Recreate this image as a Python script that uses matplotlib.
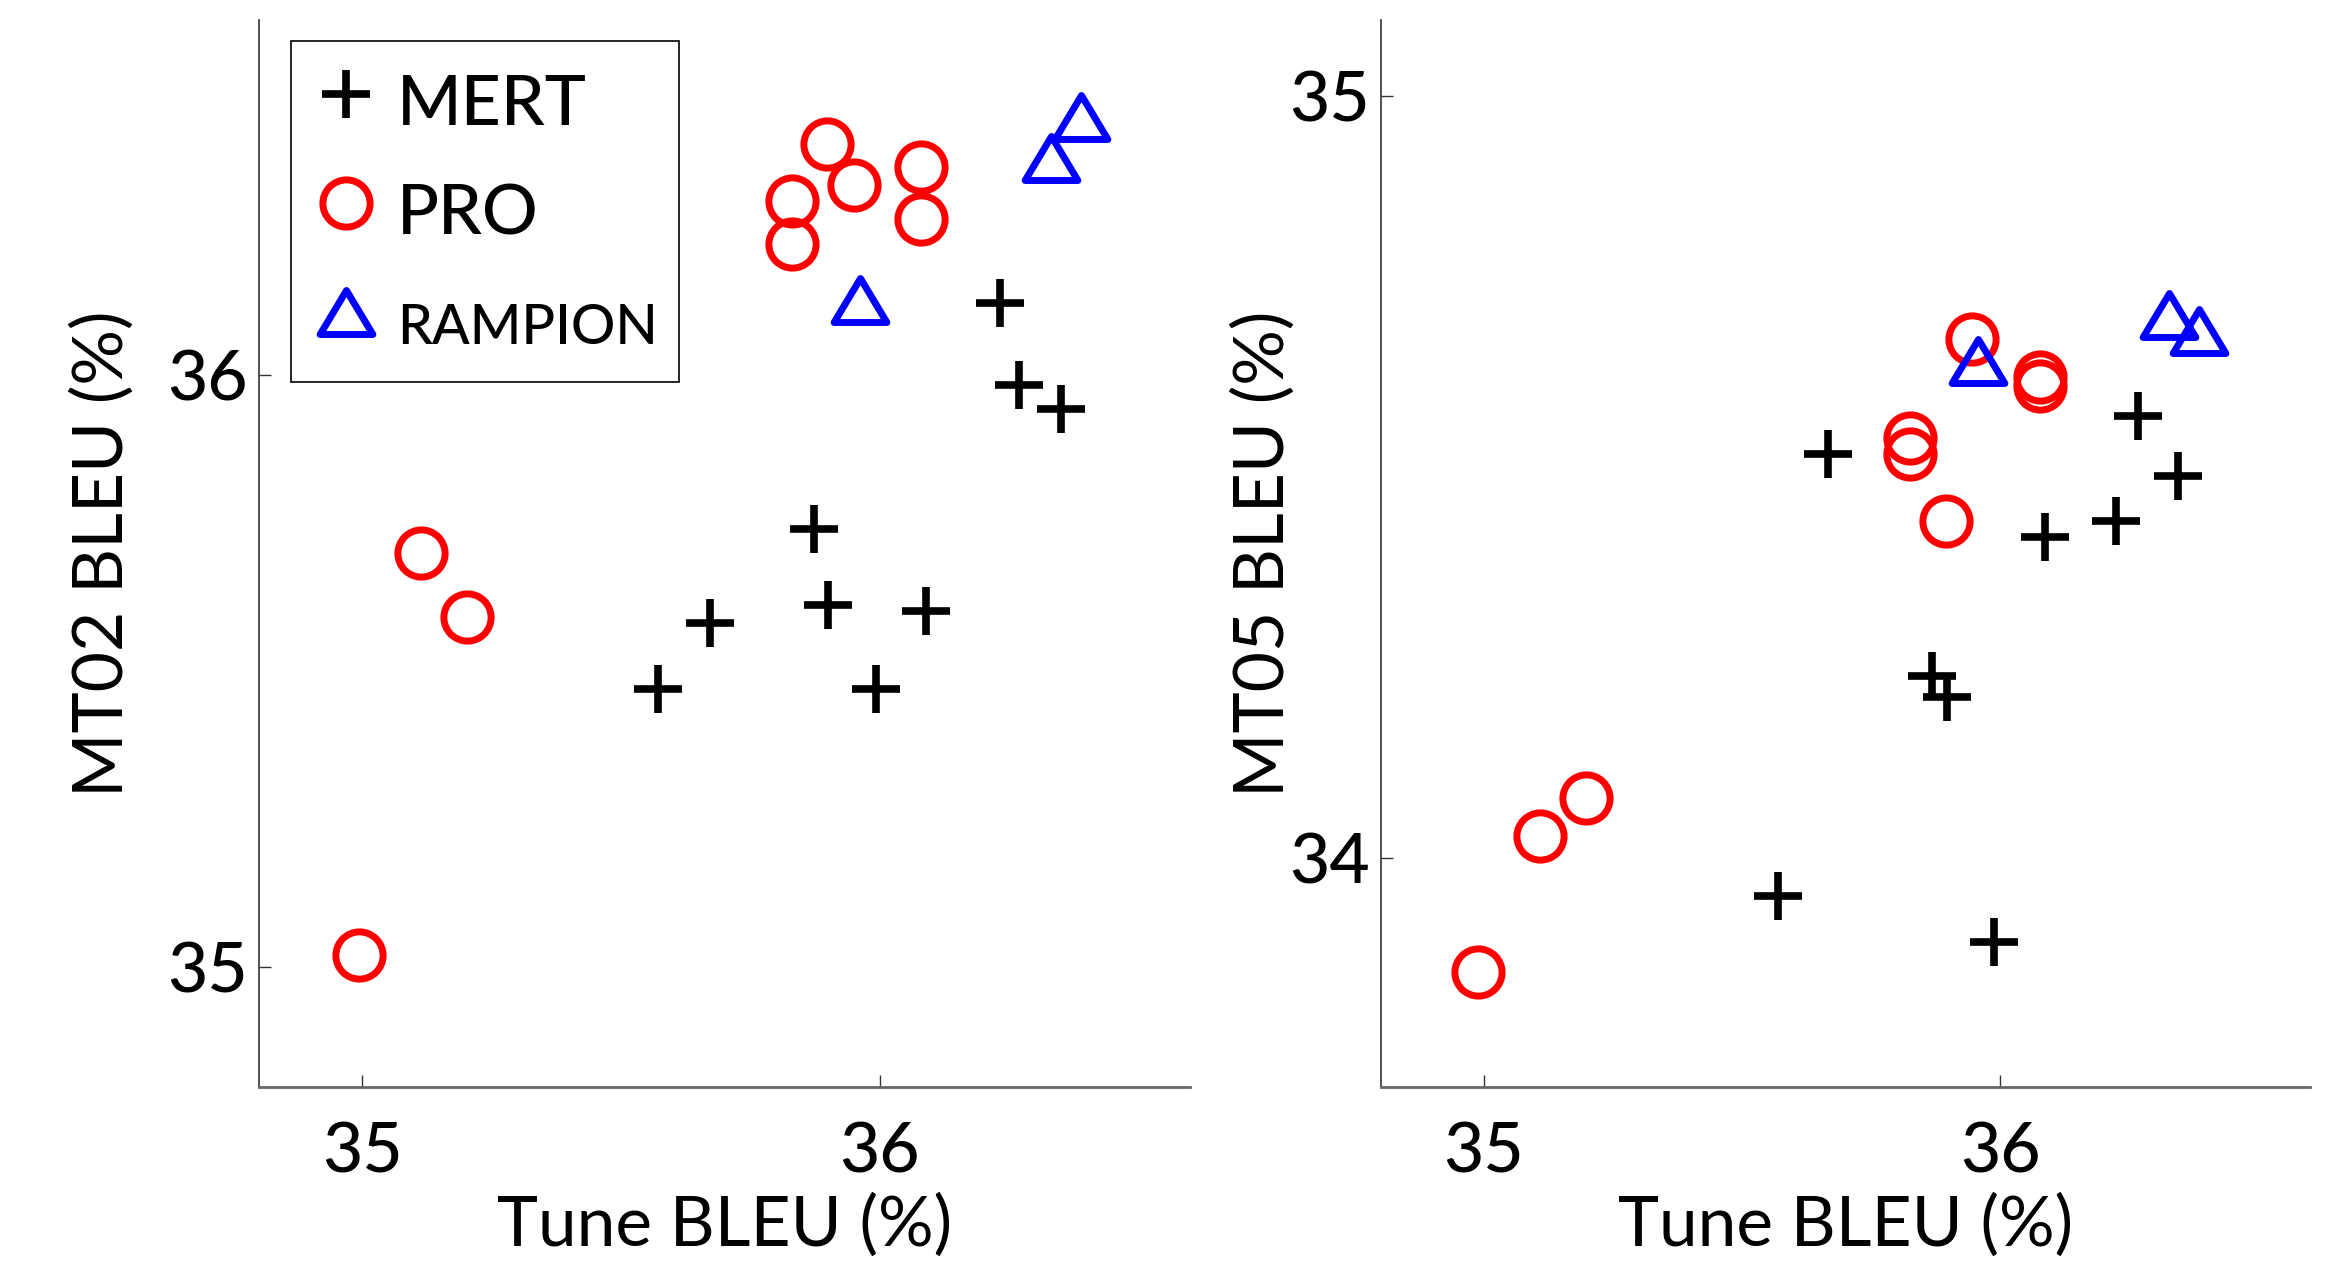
import numpy as np
import matplotlib
matplotlib.use("Agg")
import matplotlib.pyplot as plt
from matplotlib.path import Path

plt.rcParams['font.family'] = ['Lato', 'DejaVu Sans']
plt.rcParams['font.weight'] = 'medium'

# ---------------- data ----------------
# Left panel: Tune BLEU vs MT02 BLEU
mert_tune_l = [36.232, 36.270, 36.351, 35.874, 35.900, 36.090, 35.673, 35.572, 35.993]
mert_mt02   = [36.121, 35.983, 35.943, 35.740, 35.611, 35.601, 35.581, 35.470, 35.470]
pro_tune_l  = [35.899, 35.951, 35.831, 35.831, 36.081, 36.081, 35.113, 35.202, 34.994]
pro_mt02    = [36.391, 36.321, 36.294, 36.222, 36.351, 36.263, 35.699, 35.591, 35.020]
ramp_tune_l = [36.390, 36.332, 35.962]
ramp_mt02   = [36.436, 36.366, 36.127]

# Right panel: Tune BLEU vs MT05 BLEU
mert_tune_r = [35.667, 36.267, 36.345, 36.225, 36.086, 35.868, 35.896, 35.570, 35.988]
mert_mt05   = [34.530, 34.581, 34.502, 34.442, 34.421, 34.239, 34.211, 33.950, 33.890]
pro_tune_r  = [35.946, 36.077, 36.077, 35.825, 35.825, 35.895, 35.197, 35.108, 34.988]
pro_mt05    = [34.681, 34.631, 34.620, 34.552, 34.530, 34.442, 34.079, 34.029, 33.851]
ramp_tune_r = [35.957, 36.326, 36.384]
ramp_mt05   = [34.653, 34.713, 34.692]

labels = ['MERT', 'PRO', 'RAMPION']
xticks = [35, 36]
yticks_l = [35, 36]
yticks_r = [34, 35]

# ---------------- style ----------------
FS = 50
tri = Path([(0, 1), (-1.2, -1), (1.2, -1), (0, 1)],
           [Path.MOVETO, Path.LINETO, Path.LINETO, Path.CLOSEPOLY])
styles = {
    'MERT': dict(marker='+', color='black', ms=34, mew=5.5, linestyle='none'),
    'PRO': dict(marker='o', mfc='none', mec='red', ms=34, mew=5, linestyle='none'),
    'RAMPION': dict(marker=tri, mfc='none', mec='blue', ms=38, mew=5, linestyle='none'),
}

fig = plt.figure(figsize=(23.46, 12.63), dpi=100)
ax1 = fig.add_axes([0.1104, 0.1394, 0.3968, 0.8448])
ax2 = fig.add_axes([0.5885, 0.1394, 0.3962, 0.8448])

def draw(ax, mx, my, px, py, rx, ry, ylim, yticks, ylabel, ylpad):
    h1, = ax.plot(mx, my, **styles['MERT'])
    h2, = ax.plot(px, py, **styles['PRO'])
    h3, = ax.plot(rx, ry, **styles['RAMPION'])
    ax.set_xlim(34.8, 36.6)
    ax.set_ylim(*ylim)
    ax.set_xticks(xticks)
    ax.set_yticks(yticks)
    ax.set_xticklabels([str(t) for t in xticks], fontsize=FS)
    ax.set_yticklabels([str(t) for t in yticks], fontsize=FS)
    ax.tick_params(direction='in', length=8.5, width=1.0, color='#333333')
    ax.tick_params(axis='x', pad=25)
    ax.tick_params(axis='y', pad=8)
    for s in ['top', 'right']:
        ax.spines[s].set_visible(False)
    ax.spines['left'].set_color('#333333')
    ax.spines['left'].set_linewidth(1.2)
    ax.spines['bottom'].set_color('#666666')
    ax.spines['bottom'].set_linewidth(2.0)
    ax.set_xlabel('Tune BLEU (%)', fontsize=FS, labelpad=6)
    ax.set_ylabel(ylabel, fontsize=FS, labelpad=ylpad)
    return [h1, h2, h3]

hs = draw(ax1, mert_tune_l, mert_mt02, pro_tune_l, pro_mt02, ramp_tune_l, ramp_mt02,
          (34.797, 36.6), yticks_l, 'MT02 BLEU (%)', 23)
draw(ax2, mert_tune_r, mert_mt05, pro_tune_r, pro_mt05, ramp_tune_r, ramp_mt05,
     (33.70, 35.1), yticks_r, 'MT05 BLEU (%)', -5)

leg = ax1.legend(hs, labels, loc='upper left', bbox_to_anchor=(0.034, 0.980),
                 borderaxespad=0, fontsize=FS, fancybox=False, framealpha=1,
                 edgecolor='black', borderpad=0.3, handlelength=1.0,
                 handleheight=1.4, handletextpad=0.23, labelspacing=0.42,
                 numpoints=1)
leg.get_frame().set_linewidth(1.2)
leg.get_texts()[2].set_fontsize(40)

fig.savefig('out.png', dpi=100)
